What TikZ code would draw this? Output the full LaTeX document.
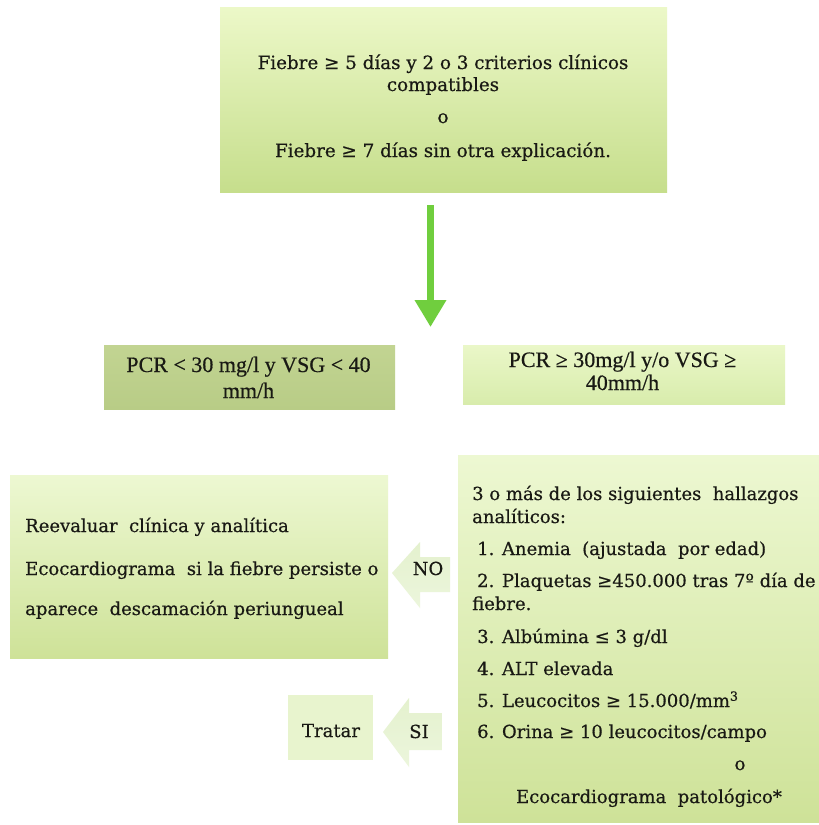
\documentclass[tikz,border=0pt]{standalone}
\usepackage{fontspec}
\setmainfont{DejaVu Serif}[FakeBold=0.5]
\newfontfamily\timesf{Liberation Serif}[FakeBold=0.5]
\usetikzlibrary{arrows.meta}
\definecolor{topT}{RGB}{236,248,200}
\definecolor{topB}{RGB}{198,222,140}
\definecolor{pcrLT}{RGB}{194,212,146}
\definecolor{pcrLB}{RGB}{184,204,134}
\definecolor{pcrRT}{RGB}{234,247,200}
\definecolor{pcrRB}{RGB}{216,236,172}
\definecolor{bigT}{RGB}{237,248,210}
\definecolor{bigB}{RGB}{206,226,152}
\definecolor{tratarC}{RGB}{232,244,206}
\definecolor{arrT}{RGB}{228,241,206}
\definecolor{arrB}{RGB}{236,246,220}
\definecolor{greenA}{RGB}{112,206,62}
\definecolor{txt}{RGB}{25,25,20}
\newcommand{\fs}[1]{\fontsize{#1}{#1}\selectfont}
\tikzset{
  box/.style={inner sep=0pt, draw=none, anchor=north west},
  ln/.style={anchor=base, inner sep=0pt, text=txt},
  lnw/.style={anchor=base west, inner sep=0pt, text=txt},
}
\begin{document}
\begin{tikzpicture}[x=1pt,y=-1pt]
\useasboundingbox[fill=white] (0,0) rectangle (819,825);
% boxes
\node[box, minimum width=447pt, minimum height=185pt, top color=topT, bottom color=topB] (top) at (220,7) {};
\node[box, minimum width=291pt, minimum height=64pt, top color=pcrLT, bottom color=pcrLB] (pcrL) at (104,345) {};
\node[box, minimum width=322pt, minimum height=59pt, top color=pcrRT, bottom color=pcrRB] (pcrR) at (463,345) {};
\node[box, minimum width=378pt, minimum height=183pt, top color=bigT, bottom color=bigB] (reeval) at (10,475) {};
\node[box, minimum width=361pt, minimum height=367pt, top color=bigT, bottom color=bigB] (hall) at (458,455) {};
\node[box, minimum width=85pt, minimum height=65pt, fill=tratarC] (tratar) at (288,695) {};
% green arrow
\coordinate (gS) at (430.5,205);
\coordinate (gE) at (430.5,327);
\draw[greenA, line width=7pt, -{Triangle[width=30pt,length=27pt]}] (gS) -- (gE);
% NO and SI block arrows
\path[top color=arrT, bottom color=arrB] (392,573) -- (420,542) -- (420,557) -- (450,557) -- (450,592) -- (420,592) -- (420,608) -- cycle;
\path[top color=arrT, bottom color=arrB] (383,732) -- (409,698) -- (409,713) -- (442,713) -- (442,750) -- (409,750) -- (409,767) -- cycle;
% top texts
\node[ln, font=\fs{18.3}] (t1) at (443,69) {Fiebre ≥ 5 días y 2 o 3 criterios clínicos};
\node[ln, font=\fs{18.3}] (t2) at (443,91) {compatibles};
\node[ln, font=\fs{18.3}] (t3) at (443,123) {o};
\node[ln, font=\fs{18.3}] (t4) at (443,157) {Fiebre ≥ 7 días sin otra explicación.};
% PCR texts
\node[ln, font=\timesf\fs{22}] (p1) at (248.5,372) {PCR < 30 mg/l y VSG < 40};
\node[ln, font=\timesf\fs{22}] (p2) at (248.5,398) {mm/h};
\node[ln, font=\timesf\fs{22}] (q1) at (622.5,367) {PCR ≥ 30mg/l y/o VSG ≥};
\node[ln, font=\timesf\fs{22}] (q2) at (622.5,390) {40mm/h};
% left big box
\node[lnw, font=\fs{18}] (r1) at (25,532) {Reevaluar\ \ clínica y analítica};
\node[lnw, font=\fs{18}] (r2) at (25,575) {Ecocardiograma\ \ si la fiebre persiste o};
\node[lnw, font=\fs{18}] (r3) at (25,615) {aparece\ \ descamación periungueal};
% NO / SI / Tratar
\node[ln, font=\fs{18}] (no) at (428,575) {NO};
\node[ln, font=\fs{18}] (si) at (419,738) {SI};
\node[ln, font=\fs{18}] (tr) at (331,737) {Tratar};
% right big box
\node[lnw, font=\fs{18}] (h1) at (472,500) {3 o más de los siguientes\ \ hallazgos};
\node[lnw, font=\fs{18}] (h2) at (472,523) {analíticos:};
\node[lnw, font=\fs{18}] (h3) at (477,555) {1. Anemia\ \ (ajustada\ \ por edad)};
\node[lnw, font=\fs{18}] (h4) at (477,587) {2. Plaquetas ≥450.000 tras 7º día de};
\node[lnw, font=\fs{18}] (h5) at (472,610) {fiebre.};
\node[lnw, font=\fs{18}] (h6) at (477,643) {3. Albúmina ≤ 3 g/dl};
\node[lnw, font=\fs{18}] (h7) at (477,675) {4. ALT elevada};
\node[lnw, font=\fs{18}] (h8) at (477,707) {5. Leucocitos ≥ 15.000/mm\textsuperscript{3}};
\node[lnw, font=\fs{18}] (h9) at (477,738) {6. Orina ≥ 10 leucocitos/campo};
\node[ln, font=\fs{18}] (h10) at (740,770) {o};
\node[ln, font=\fs{18}] (h11) at (649,803) {Ecocardiograma\ \ patológico*};
\end{tikzpicture}
\end{document}
